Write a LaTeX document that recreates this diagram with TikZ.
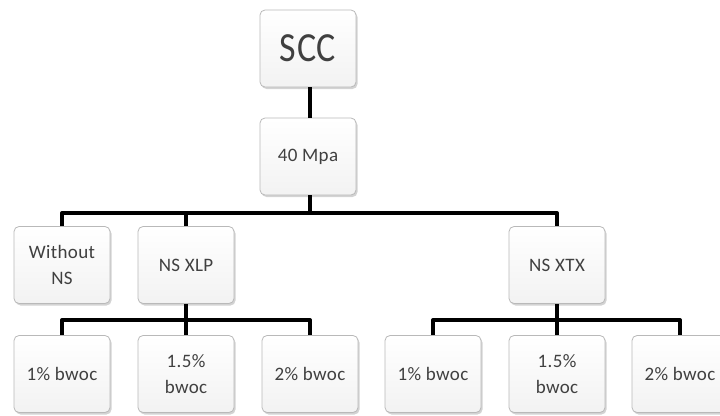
\documentclass[tikz,border=0pt]{standalone}
\usepackage{fontspec}
\setmainfont{Carlito}[LetterSpace=2]
\usetikzlibrary{shadows}
\begin{document}
\begin{tikzpicture}[x=1pt,y=-1pt,
  box/.style={draw=gray!55, line width=0.8pt, rounded corners=5pt,
    top color=white, bottom color=gray!10,
    drop shadow={opacity=0.35, shadow xshift=1.5pt, shadow yshift=-2pt},
    minimum width=96pt, minimum height=77pt, align=center,
    text=black!75, font=\fontsize{19}{26}\selectfont, inner sep=2pt},
  bigbox/.style={box, font=\fontsize{36}{40}\selectfont},
  link/.style={line width=4pt, black}]
\useasboundingbox (0,0) rectangle (720,415);

% tree nodes
\node[bigbox] (scc) at (308,48.5) {\scalebox{1}[1.15]{SCC}};
\node[box] (mpa) at (308,156.5) {\raisebox{-4pt}{40 Mpa}};
\node[box] (wns) at (62,265) {Without\\NS};
\node[box] (xlp) at (186,265) {NS XLP};
\node[box] (xtx) at (557,265) {NS XTX};
\node[box] (a1) at (62,374) {1\% bwoc};
\node[box] (a2) at (186,374) {1.5\%\\bwoc};
\node[box] (a3) at (310,374) {2\% bwoc};
\node[box] (b1) at (433,374) {1\% bwoc};
\node[box] (b2) at (557,374) {1.5\%\\bwoc};
\node[box] (b3) at (680,374) {2\% bwoc};

% bus levels
\coordinate (bus1) at (0,213);
\coordinate (bus2) at (0,320);

% connectors
\draw[link] ([xshift=2pt]scc.south) -- ([xshift=2pt]mpa.north);
\draw[link] ([xshift=2pt]mpa.south) -- ([xshift=2pt]mpa.south |- bus1);
\draw[link, line join=round] (wns.north) -- (wns.north |- bus1) -- (xtx.north |- bus1) -- (xtx.north);
\draw[link] (xlp.north) -- (xlp.north |- bus1);
\draw[link] (xlp.south) -- (xlp.south |- bus2);
\draw[link, line join=round] (a1.north) -- (a1.north |- bus2) -- (a3.north |- bus2) -- (a3.north);
\draw[link] (a2.north) -- (a2.north |- bus2);
\draw[link] (xtx.south) -- (xtx.south |- bus2);
\draw[link, line join=round] (b1.north) -- (b1.north |- bus2) -- (b3.north |- bus2) -- (b3.north);
\draw[link] (b2.north) -- (b2.north |- bus2);
\end{tikzpicture}
\end{document}
